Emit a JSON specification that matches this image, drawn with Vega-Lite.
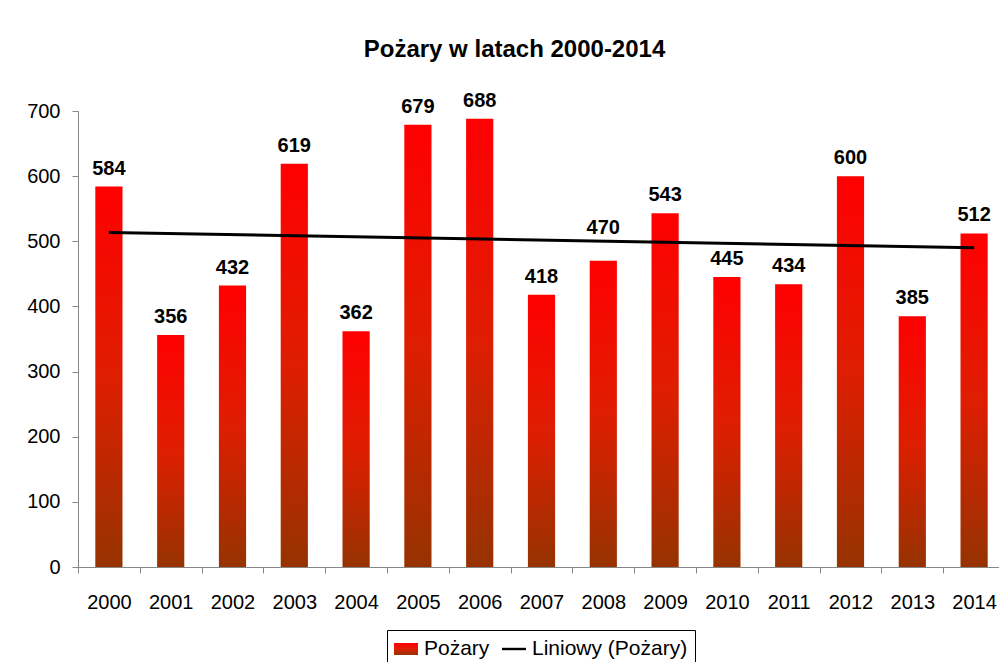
{
  "$schema": "https://vega.github.io/schema/vega-lite/v6.json",
  "autosize": {"type": "none"},
  "padding": {"left": 78, "top": 111, "right": 0, "bottom": 95},
  "width": 927,
  "height": 456,
  "background": "white",
  "config": {
    "font": "Liberation Sans",
    "view": {"stroke": null},
    "axis": {
      "labelFont": "Liberation Sans",
      "labelFontSize": 20,
      "labelColor": "#000000",
      "domainColor": "#868686",
      "tickColor": "#868686",
      "grid": false,
      "title": null
    }
  },
  "title": {
    "text": "Pożary w latach 2000-2014",
    "font": "Liberation Sans",
    "fontSize": 24,
    "fontWeight": "bold",
    "color": "#000000",
    "anchor": "middle",
    "dx": -27,
    "offset": 29
  },
  "data": {
    "values": [
      {"year": 2000, "count": 584},
      {"year": 2001, "count": 356},
      {"year": 2002, "count": 432},
      {"year": 2003, "count": 619},
      {"year": 2004, "count": 362},
      {"year": 2005, "count": 679},
      {"year": 2006, "count": 688},
      {"year": 2007, "count": 418},
      {"year": 2008, "count": 470},
      {"year": 2009, "count": 543},
      {"year": 2010, "count": 445},
      {"year": 2011, "count": 434},
      {"year": 2012, "count": 600},
      {"year": 2013, "count": 385},
      {"year": 2014, "count": 512}
    ]
  },
  "encoding": {
    "x": {
      "field": "year",
      "type": "ordinal",
      "scale": {"paddingInner": 0, "paddingOuter": 0},
      "axis": {
        "labelAngle": 0,
        "tickBand": "extent",
        "tickSize": 6,
        "labelPadding": 19
      }
    },
    "y": {
      "field": "count",
      "type": "quantitative",
      "scale": {"domain": [0, 700], "nice": false},
      "axis": {
        "values": [0, 100, 200, 300, 400, 500, 600, 700],
        "tickSize": 6,
        "labelPadding": 12
      }
    }
  },
  "layer": [
    {
      "mark": {
        "type": "bar",
        "width": {"band": 0.44},
        "fill": {
          "gradient": "linear",
          "x1": 0, "y1": 0, "x2": 0, "y2": 1,
          "stops": [
            {"offset": 0, "color": "#ff0000"},
            {"offset": 0.5, "color": "#de1e00"},
            {"offset": 1, "color": "#963300"}
          ]
        }
      }
    },
    {
      "transform": [{"filter": "datum.year !== 2008"}],
      "mark": {"type": "text", "fontSize": 20, "fontWeight": "bold", "baseline": "alphabetic", "dy": -12, "color": "#000000", "font": "Liberation Sans"},
      "encoding": {
        "text": {"field": "count", "type": "quantitative"}
      }
    },
    {
      "transform": [{"filter": "datum.year === 2008"}],
      "mark": {"type": "text", "fontSize": 20, "fontWeight": "bold", "baseline": "alphabetic", "dy": -27, "color": "#000000", "font": "Liberation Sans"},
      "encoding": {
        "text": {"field": "count", "type": "quantitative"}
      }
    },
    {
      "transform": [{"regression": "count", "on": "year"}],
      "mark": {"type": "line"},
      "encoding": {
        "strokeWidth": {"value": 3},
        "stroke": {
          "datum": "Liniowy (Pożary)",
          "type": "nominal",
          "scale": {"domain": ["Pożary", "Liniowy (Pożary)"], "range": ["#ff0000", "#000000"]},
          "legend": {
            "title": null,
            "orient": "none",
            "legendX": 309,
            "legendY": 519,
            "direction": "horizontal",
            "strokeColor": "#000000",
            "padding": 7,
            "labelFont": "Liberation Sans",
            "labelFontSize": 21,
            "labelColor": "#000000",
            "labelOffset": 6,
            "columnPadding": 12,
            "symbolSize": 576,
            "symbolStrokeWidth": 0,
            "symbolType": {"expr": "datum.value === 'Pożary' ? 'M-1,-0.5H1V0.5H-1Z' : 'M-1,-0.1H1V0.1H-1Z'"},
            "symbolFillColor": {"expr": "datum.value === 'Pożary' ? {gradient: 'linear', x1: 0, y1: 0, x2: 0, y2: 1, stops: [{offset: 0, color: '#ff0000'}, {offset: 0.5, color: '#de1e00'}, {offset: 1, color: '#963300'}]} : '#000000'"}
          }
        }
      }
    }
  ]
}
